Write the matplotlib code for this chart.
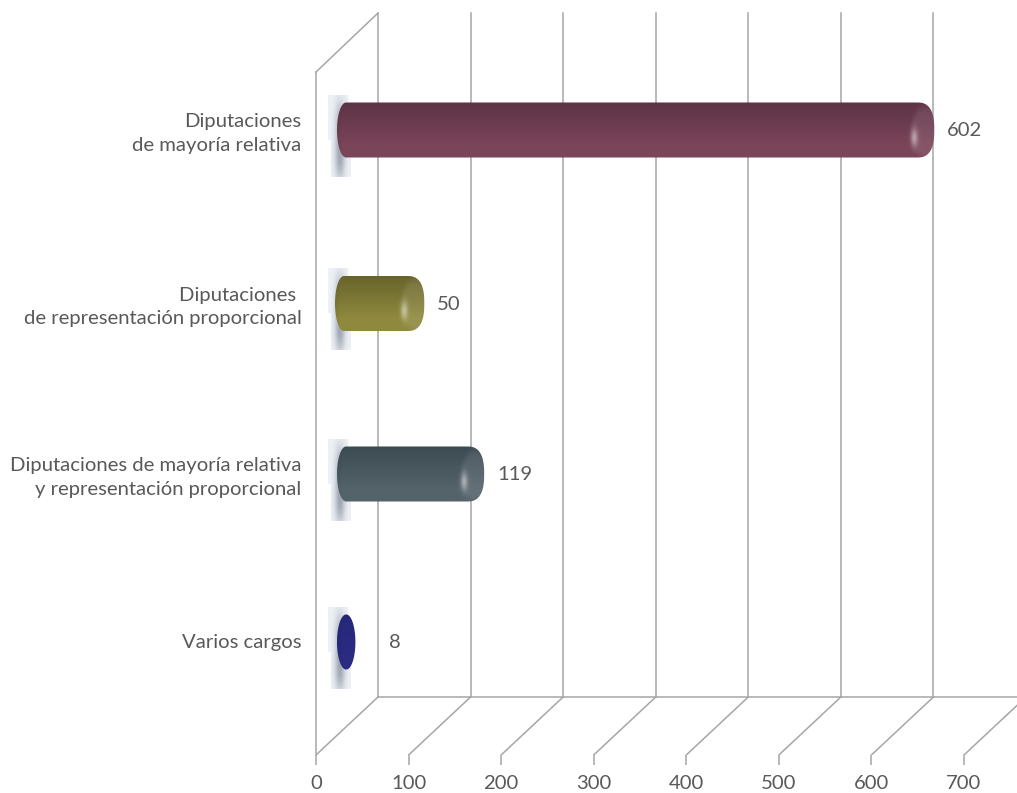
import numpy as np
import matplotlib
matplotlib.use("Agg")
import matplotlib.pyplot as plt
from matplotlib.path import Path
from matplotlib.patches import Polygon

plt.rcParams['font.family'] = ['Lato', 'DejaVu Sans']

categories = ["Diputaciones\nde mayoría relativa",
              "Diputaciones \nde representación proporcional",
              "Diputaciones de mayoría relativa\ny representación proporcional",
              "Varios cargos"]
values = [602, 50, 119, 8]
xticks = [0, 100, 200, 300, 400, 500, 600, 700]

# top / bottom colour of each cylinder
top_colors = ["#5e3346", "#67632b", "#3c4a52", "#27277a"]
bottom_colors = ["#7a4459", "#8e893d", "#54626a", "#2b2b82"]

# layout of the cylinders, in px
centers_px = [130, 303.5, 474, 642]
lefts_px = [337, 335, 337, 337]
cap_px = [61, 62, 58, 32]
label_gap_px = [13, 13, 13, 34]

W, H = 1017, 793
text_col = "#58595b"
line_col = "#a6a6a6"
fs = 14.6

fig = plt.figure(figsize=(W / 100, H / 100), dpi=100)
ax = fig.add_axes([316 / W, 1 - 755 / H, (W - 316) / W, (755 - 13) / H])

sx = 0.9257  # px per unit
ax.set_xlim(0, (W - 316) / sx)
ax.set_ylim(755, 13)  # y axis runs in px, categories sit at centers_px


def dx(px):
    return px / sx


# walls and floor
depth_x = dx(62)
for t in xticks:
    ax.plot([t, t + depth_x], [755, 697], color=line_col, lw=1.1, zorder=1)
    if t + depth_x < 757:
        ax.plot([t + depth_x] * 2, [697, 13], color=line_col, lw=1.1, zorder=1, clip_on=False)
ax.plot([depth_x, 800], [697, 697], color=line_col, lw=1.1, zorder=1)
ax.plot([0, 0], [755, 72], color=line_col, lw=1.1, zorder=1, clip_on=False)
ax.plot([0, depth_x], [72, 13], color=line_col, lw=1.1, zorder=1, clip_on=False)

for i, v in enumerate(values):
    cy = centers_px[i]

    # light plate + soft shadow behind the start of the bar
    plate = [(328, -35), (348, -35), (348, 10), (351, 10), (351, 47), (331, 47), (331, 10), (328, 10)]
    plate = [(dx(a - 316), cy + b) for a, b in plate]
    ax.add_patch(Polygon(plate, closed=True, fc="#edf0f5", ec="none", zorder=2))
    gx, gy = np.meshgrid(np.arange(330, 351) + 0.5, np.arange(-35, 47) + 0.5)
    blur = np.exp(-((gx - 340) / 5) ** 2 - ((gy - 8) / 38) ** 4)
    rgba = np.zeros(gx.shape + (4,))
    rgba[..., :3] = np.array([0.5, 0.54, 0.6])
    rgba[..., 3] = blur * (0.45 + 0.4 * (gy + 35) / 82)
    ax.imshow(rgba, extent=(dx(330 - 316), dx(351 - 316), cy + 47, cy - 35),
              aspect='auto', zorder=3, interpolation='bilinear')

    # cylinder outline
    short = v < 20
    left = lefts_px[i]
    tip = 316 + v * sx + cap_px[i]
    half = 27.5
    rl = 9
    rr = 9 if short else 17
    n = 2 / (2.0 if short else 2.6)
    a = np.linspace(np.pi / 2, -np.pi / 2, 40)
    right_x = tip - rr + rr * np.abs(np.cos(a)) ** n
    right_y = -half * np.sign(np.sin(a)) * np.abs(np.sin(a)) ** n
    left_x = left + rl - rl * np.cos(a)
    left_y = half * np.sin(a)
    xs = np.r_[right_x, left_x]
    ys = np.r_[right_y, left_y]
    verts = np.c_[dx(xs - 316), cy + ys]
    outline = Path(np.vstack([verts, verts[0]]), closed=True)

    # vertical gradient, slightly darker at the start, glint on the far cap
    bx, by = np.meshgrid(np.arange(left - 1, int(tip) + 2) + 0.5, np.arange(-28, 29) + 0.5)
    t = (by + half) / (2 * half)
    c0 = np.array(matplotlib.colors.to_rgb(top_colors[i]))
    c1 = np.array(matplotlib.colors.to_rgb(bottom_colors[i]))
    img = c0 + (c1 - c0) * np.clip(t * 1.3, 0, 1)[..., None]
    edge = np.clip((bx - left) / 6, 0, 1)
    img = img * (0.94 + 0.06 * edge)[..., None]
    if not short:
        # end cap: lighter face with a curved border, small highlight on it
        r = np.sqrt(((bx - (tip - 9)) / 16) ** 2 + ((by - 2) / 30) ** 2)
        cap = np.clip((1 - r) / 0.3, 0, 1)
        img = img + (1 - img) * (0.09 * cap)[..., None]
        glint = np.exp(-((bx - (tip - 20)) / 3.5) ** 2 - ((by - 7.5) / 9) ** 2)
        img = img + (1 - img) * (0.45 * glint)[..., None]
    im = ax.imshow(np.clip(img, 0, 1),
                   extent=(dx(left - 1 - 316), dx(int(tip) + 2 - 316), cy + 29, cy - 28),
                   aspect='auto', zorder=4, interpolation='bilinear')
    im.set_clip_path(outline, ax.transData)

    # value label
    ax.text(dx(tip + label_gap_px[i] - 316), cy + 1, str(v), color=text_col, fontsize=fs,
            va='center', ha='left', zorder=5)

# limits again, imshow moved them
ax.set_xlim(0, (W - 316) / sx)
ax.set_ylim(755, 13)

for s in ax.spines.values():
    s.set_visible(False)
ax.patch.set_visible(False)

ax.set_xticks(xticks)
ax.set_yticks([c - 1 for c in centers_px])
ax.set_yticklabels(categories, multialignment='right', linespacing=1.45)
ax.tick_params(axis='x', length=7.2, width=1.1, color=line_col, labelcolor=text_col,
               labelsize=fs, pad=7.5)
ax.tick_params(axis='y', length=0, labelcolor=text_col, labelsize=fs, pad=10.5)

fig.savefig("out.png", dpi=100, facecolor="white")
